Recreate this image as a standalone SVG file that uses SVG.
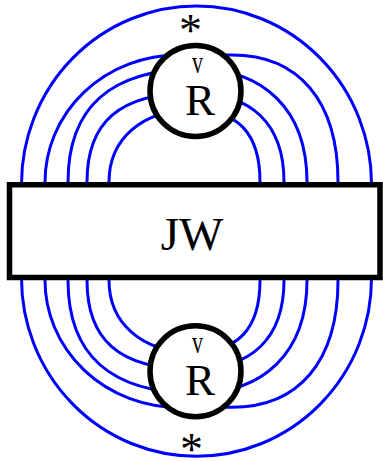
<svg xmlns="http://www.w3.org/2000/svg" width="383" height="461" viewBox="0 0 383 461">
<style>
.ln{fill:none;stroke:#0000ff;stroke-width:3}
.nd{fill:#ffffff;stroke:#000000;stroke-width:5.5}
.tx{font-family:"Liberation Serif","Times New Roman",serif;fill:#000000;text-anchor:middle}
</style>
<defs>
<g id="half">
<path class="ln" d="M21.5,184 A175,178 0 0 1 371.5,184"/>
<path class="ln" d="M45,184 L45,182 A133.5,127 0 0 1 178.5,55 L232,55 C298,55 338,100 338,182 L338,184"/>
<path class="ln" d="M68,184 L68,182 C68,109 109,69 196,69 C263,69 307,109 307,182 L307,184"/>
<path class="ln" d="M87,184 L87,182 C87,123 118.5,93 192,93 C252,93 284,124 284,182 L284,184"/>
<path class="ln" d="M109,184 L109,182 C109,139 142,110 192,110 C238,110 260,133 260,182 L260,184"/>
</g>
</defs>
<g id="connectors">
<use href="#half"/>
<use href="#half" transform="matrix(1,0,0,-1,0,462.25)"/>
</g>
<g id="jw">
<rect class="nd" x="9.5" y="184.75" width="370.5" height="92.75"/>
<text class="tx" x="192" y="250" font-size="47">JW</text>
</g>
<g id="r-top">
<circle class="nd" cx="195.5" cy="91" r="45.5"/>
<text class="tx" transform="translate(197.5,73) scale(1,1.45)" font-size="22">v</text>
<text class="tx" x="200" y="115" font-size="45">R</text>
</g>
<g id="r-bottom">
<circle class="nd" cx="195.5" cy="371.25" r="45.5"/>
<text class="tx" transform="translate(197.5,353.25) scale(1,1.45)" font-size="22">v</text>
<text class="tx" x="200" y="395.25" font-size="45">R</text>
</g>
<text class="tx" x="190.5" y="46" font-size="46">*</text>
<text class="tx" x="191.5" y="465" font-size="46">*</text>
</svg>
